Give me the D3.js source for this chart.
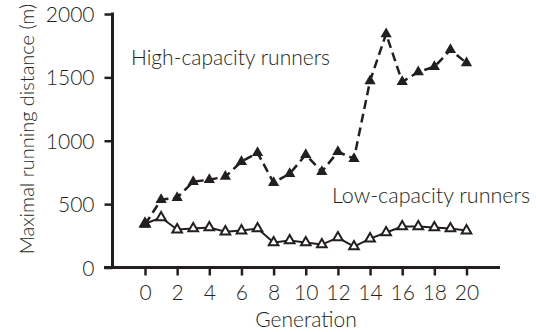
<!DOCTYPE html>
<html>
<head>
<meta charset="utf-8">
<script src="https://cdn.jsdelivr.net/npm/d3@7"></script>
<style>
  html, body { margin: 0; padding: 0; background: #fff; }
  svg { display: block; }
  text { font-family: Lato, "Open Sans", sans-serif; font-weight: 300; fill: #231f20; }
</style>
</head>
<body>
<svg id="chart" width="536" height="332"></svg>
<script>
// Maximal running distance per generation of selection
const generations = d3.range(0, 21);
const highCapacity = [339, 535, 551, 677, 693, 717, 835, 905, 669, 740, 890, 756, 913, 858, 1472, 1843, 1465, 1543, 1583, 1717, 1614];
const lowCapacity  = [345, 394, 299, 307, 315, 283, 291, 307, 197, 213, 197, 181, 236, 165, 228, 276, 323, 323, 315, 307, 291];
const xTickValues = [0, 2, 4, 6, 8, 10, 12, 14, 16, 18, 20];
const yTickValues = [0, 500, 1000, 1500, 2000];
const seriesLabels = ["High-capacity runners", "Low-capacity runners"];
const xTitle = "Generation";
const yTitle = "Maximal running distance (m)";

const ink = "#231f20";
const svg = d3.select("#chart");

const x = d3.scaleLinear().domain([0, 20]).range([145, 466.5]);
const y = d3.scaleLinear().domain([0, 2000]).range([267.5, 14]);

const axisLeft = 112.5;
const axisBottom = 267.5;

// Y axis ticks and labels
const yAxis = svg.append("g")
  .attr("transform", `translate(${axisLeft},0)`)
  .call(d3.axisLeft(y).tickValues(yTickValues).tickSize(8).tickPadding(10).tickFormat(d3.format("d")));
yAxis.select(".domain").remove();
yAxis.selectAll(".tick line").attr("stroke", ink).attr("stroke-width", 2.5);
yAxis.selectAll(".tick text").attr("font-size", 21).attr("dy", "0.36em");

// X axis ticks and labels
const xAxis = svg.append("g")
  .attr("transform", `translate(0,${axisBottom})`)
  .call(d3.axisBottom(x).tickValues(xTickValues).tickSize(8).tickPadding(10));
xAxis.select(".domain").remove();
xAxis.selectAll(".tick line").attr("stroke", ink).attr("stroke-width", 2.5);
xAxis.selectAll(".tick text").attr("font-size", 21);

// Axis lines
svg.append("line")
  .attr("x1", axisLeft).attr("x2", axisLeft)
  .attr("y1", y(2000) - 1.5).attr("y2", axisBottom)
  .attr("stroke", ink).attr("stroke-width", 3);
svg.append("line")
  .attr("x1", 104).attr("x2", 500)
  .attr("y1", axisBottom).attr("y2", axisBottom)
  .attr("stroke", ink).attr("stroke-width", 3);

// Axis titles
svg.append("text")
  .attr("x", 306).attr("y", 327)
  .attr("text-anchor", "middle").attr("font-size", 21)
  .text(xTitle);
svg.append("text")
  .attr("transform", "translate(34,129) rotate(-90)")
  .attr("text-anchor", "middle").attr("font-size", 20)
  .text(yTitle);

const line = d3.line().x((d, i) => x(generations[i])).y(d => y(d));
const tri = d3.symbol().type(d3.symbolTriangle);

// Low-capacity line: solid with open triangles
svg.append("path")
  .datum(lowCapacity)
  .attr("d", line)
  .attr("fill", "none").attr("stroke", ink).attr("stroke-width", 2);
svg.append("g").selectAll("path")
  .data(lowCapacity)
  .join("path")
  .attr("d", tri.size(40))
  .attr("transform", (d, i) => `translate(${x(generations[i])},${y(d)})`)
  .attr("fill", "#fff").attr("stroke", ink).attr("stroke-width", 2);

// High-capacity line: dashed with filled triangles
svg.append("path")
  .datum(highCapacity)
  .attr("d", line)
  .attr("fill", "none").attr("stroke", ink).attr("stroke-width", 2.5)
  .attr("stroke-dasharray", "9,5");
svg.append("g").selectAll("path")
  .data(highCapacity)
  .join("path")
  .attr("d", tri.size(55))
  .attr("transform", (d, i) => `translate(${x(generations[i])},${y(d)})`)
  .attr("fill", ink);

// Series labels
svg.append("text")
  .attr("x", 131).attr("y", 65).attr("font-size", 21)
  .text(seriesLabels[0]);
svg.append("text")
  .attr("x", 332).attr("y", 203).attr("font-size", 21.5)
  .text(seriesLabels[1]);
</script>
</body>
</html>
